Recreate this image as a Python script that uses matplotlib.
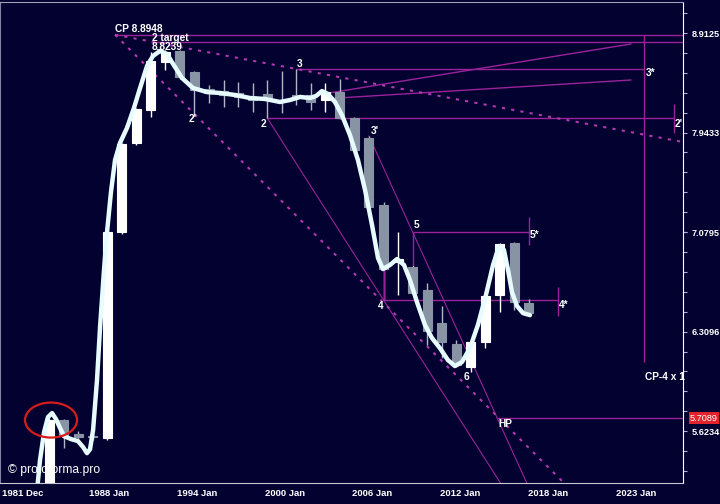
import numpy as np
import matplotlib
matplotlib.use("Agg")
import matplotlib.pyplot as plt
from matplotlib.patches import Ellipse
from matplotlib.ticker import NullFormatter
from matplotlib.transforms import ScaledTranslation

# yearly candles
years = list(range(1984, 2018))
opens = [4.85, 5.696, 5.604, 5.591, 5.578, 7.080, 7.848, 8.153, 8.619, 8.729, 8.519, 8.354,
         8.334, 8.315, 8.277, 8.305, 8.248, 8.296, 8.296, 8.248, 8.325, 8.078, 7.893, 7.305,
         6.838, 6.799, 6.620, 6.372, 6.219, 6.056, 6.234, 6.582, 6.990, 6.522]
highs = [5.7089, 5.705, 5.623, 5.604, 7.088, 7.848, 8.172, 8.719, 8.739, 8.739, 8.529, 8.393,
         8.441, 8.422, 8.412, 8.441, 8.529, 8.549, 8.412, 8.412, 8.451, 8.087, 7.911, 7.330,
         7.080, 6.815, 6.674, 6.499, 6.248, 6.241, 6.582, 6.990, 6.998, 6.552]
lows = [4.79, 5.514, 5.566, 5.566, 5.566, 7.063, 7.830, 8.087, 8.539, 8.451, 8.106, 8.220,
        8.182, 8.182, 8.134, 8.078, 8.125, 8.201, 8.153, 8.134, 8.069, 7.775, 7.280, 6.544,
        6.582, 6.589, 6.212, 6.119, 6.063, 6.021, 6.190, 6.453, 6.469, 6.424]
closes = [5.696, 5.598, 5.585, 5.585, 7.080, 7.839, 8.163, 8.629, 8.719, 8.470, 8.344, 8.315,
          8.296, 8.277, 8.248, 8.248, 8.239, 8.277, 8.229, 8.325, 8.078, 7.784, 7.288, 6.783,
          6.862, 6.597, 6.313, 6.234, 6.070, 6.234, 6.574, 6.982, 6.529, 6.446]

# smoothed line
curve_years = [1983.11, 1983.38, 1983.66, 1983.93, 1984.21, 1984.48, 1984.76, 1985.03, 1985.51,
               1985.99, 1986.34, 1986.61, 1986.82, 1987.03, 1987.30, 1987.51, 1987.78, 1987.99,
               1988.26, 1988.54, 1988.88, 1989.36, 1989.84, 1990.26, 1990.74, 1991.15, 1991.63,
               1992.11, 1992.53, 1993.14, 1993.90, 1994.86, 1995.76, 1996.79, 1997.82, 1998.85,
               1999.88, 2000.57, 2001.26, 2001.94, 2002.36, 2002.77, 2003.18, 2003.66, 2004.14,
               2004.69, 2005.24, 2005.73, 2006.21, 2006.62, 2006.96, 2007.44, 2007.93, 2008.41,
               2008.82, 2009.30, 2009.85, 2010.33, 2010.88, 2011.43, 2011.91, 2012.39, 2012.94,
               2013.49, 2014.04, 2014.53, 2014.94, 2015.28, 2015.56, 2015.83, 2016.18, 2016.59,
               2017.07]
curve_values = [5.192, 5.438, 5.617, 5.716, 5.742, 5.702, 5.643, 5.591, 5.572,
                5.559, 5.521, 5.482, 5.507, 5.630, 5.966, 6.343, 6.775, 7.080,
                7.415, 7.695, 7.848, 7.985, 8.172, 8.363, 8.579, 8.679, 8.729,
                8.699, 8.599, 8.461, 8.363, 8.324, 8.315, 8.296, 8.267, 8.258,
                8.229, 8.248, 8.277, 8.267, 8.286, 8.334, 8.305, 8.229, 8.106,
                7.921, 7.695, 7.432, 7.137, 6.870, 6.783, 6.815, 6.862, 6.815,
                6.697, 6.529, 6.358, 6.263, 6.190, 6.105, 6.063, 6.091, 6.190,
                6.358, 6.582, 6.815, 6.966, 6.934, 6.775, 6.605, 6.499, 6.446,
                6.431]

# wave points
cp_year, cp_value = 1988.54, 8.8948
target_year, target_value = 1991, 8.8239
hp_value = 5.7089
p2 = (1999, 8.078)
p2_left = (1994, 8.106)
p3 = (2001, 8.549)
p3_prime = (2006, 7.911)
p4 = (2007, 6.544)
p5 = (2009, 7.080)
p6 = (2013, 6.021)
cp_dots_upper = (2027.59, 7.857)
cp_dots_lower = (2019.34, 5.302)
rise_years = [2002.8, 2024.0]
rise_upper = [8.305, 8.800]
rise_lower = [8.258, 8.441]
cp_vert_year, cp_vert_bottom = 2024.91, 6.091
star5_year, star4_year, star2_year = 2017, 2019, 2026.97
tick5 = [7.204, 6.974]
tick4 = [6.643, 6.424]
tick2 = [8.210, 7.939]

yticks = [5.6234, 6.3096, 7.0795, 7.9433, 8.9125]
ytick_labels = ["5.6234", "6.3096", "7.0795", "7.9433", "8.9125"]
xtick_pos = [1982.2, 1988.13, 1994.18, 2000.23, 2006.21, 2012.26, 2018.31, 2024.36]
xtick_labels = ["1981 Dec", "1988 Jan", "1994 Jan", "2000 Jan", "2006 Jan", "2012 Jan",
                "2018 Jan", "2023 Jan"]

bg = "#03012f"
purple = "#9a229a"
dots = "#b238b2"
bear = "#8893a3"
bear_wick = "#aeb7c4"
sans = ["Liberation Sans", "DejaVu Sans"]

fig = plt.figure(figsize=(7.2, 5.04), dpi=100, facecolor=bg)
ax = fig.add_axes([0, 21 / 504, 683 / 720, 481 / 504], facecolor=bg)
ax.set_yscale("log")
ax.set_xlim(1980.63, 2027.59)
ax.set_ylim(5.296, 9.238)
x_right = ax.get_xlim()[1]


def extend(a, b, x_end):
    k = (np.log10(b[1]) - np.log10(a[1])) / (b[0] - a[0])
    return 10 ** (np.log10(a[1]) + k * (x_end - a[0]))


# candles
for yr, o, h, l, c in zip(years, opens, highs, lows, closes):
    up = c >= o
    ax.vlines(yr, l, h, color="white" if up else bear_wick, lw=1, zorder=3)
    col = "white" if up else bear
    ax.bar(yr, abs(c - o), bottom=min(o, c), width=0.62, color=col, edgecolor=col,
           lw=0.8, zorder=3.5)

ax.plot(curve_years, curve_values, color="#e6fcff", lw=3.2, solid_capstyle="round",
        solid_joinstyle="round", zorder=4)

# horizontal levels
ax.hlines(cp_value, cp_year, x_right, color=purple, lw=1, zorder=2)
ax.hlines(target_value, target_year, x_right, color=purple, lw=1, zorder=2)
ax.hlines(p3[1], p3[0], cp_vert_year, color=purple, lw=1, zorder=2)
ax.hlines(p2[1], p2[0], star2_year, color=purple, lw=1, zorder=2)
ax.hlines(p5[1], p5[0], star5_year, color=purple, lw=1, zorder=2)
ax.hlines(p4[1], p4[0], star4_year, color=purple, lw=1, zorder=2)
ax.vlines(cp_vert_year, cp_vert_bottom, cp_value, color=purple, lw=1, zorder=2)
ax.vlines(star5_year, *tick5, color=purple, lw=1, zorder=2)
ax.vlines(star4_year, *tick4, color=purple, lw=1, zorder=2)
ax.vlines(star2_year, *tick2, color=purple, lw=1, zorder=2)
ax.vlines(p4[0], p4[1], closes[years.index(2007)], color=purple, lw=1, zorder=3.6)
ax.vlines(p5[0], highs[years.index(2009)], p5[1], color=purple, lw=1, zorder=3.6)
ax.plot(rise_years, rise_upper, color=purple, lw=1, zorder=2)
ax.plot(rise_years, rise_lower, color=purple, lw=1, zorder=2)

# trend lines
x_far = 2035
ax.plot([p2[0], x_far], [p2[1], extend(p2, p4, x_far)], color=purple, lw=0.8, zorder=2)
ax.plot([p3_prime[0], x_far], [p3_prime[1], extend(p3_prime, p5, x_far)], color=purple,
        lw=0.8, zorder=2)
cp = (cp_year, cp_value)
ax.plot([cp_year, x_right], [cp_value, extend(cp, cp_dots_upper, x_right)], color=dots,
        lw=1.5, ls=(0, (1.5, 3)), zorder=2)
ax.plot([cp_year, x_far], [cp_value, extend(cp, cp_dots_lower, x_far)], color=dots,
        lw=1.5, ls=(0, (1.5, 3)), zorder=2)

# HP where the 3'-5 line meets the hp level
k = (np.log10(p5[1]) - np.log10(p3_prime[1])) / (p5[0] - p3_prime[0])
hp_year = p3_prime[0] + (np.log10(hp_value) - np.log10(p3_prime[1])) / k
ax.hlines(hp_value, hp_year, x_right, color=purple, lw=1, zorder=2)

# labels
labels = [
    ("CP 8.8948", cp, (0, 6), "left"),
    ("2 target", (target_year, target_value), (1, 4), "left"),
    ("8.8239", (target_year, target_value), (1, -5), "left"),
    ("3", p3, (3, 5), "center"),
    ("2'", p2_left, (-2, -4), "center"),
    ("2", p2, (-4, -6), "center"),
    ("3'", p3_prime, (6, 5), "center"),
    ("5", p5, (4, 7), "center"),
    ("4", p4, (-3, -6), "center"),
    ("6", p6, (-4, -5), "center"),
    ("HP", (hp_year, hp_value), (8, -6), "center"),
    ("5*", (star5_year, p5[1]), (6, -3), "center"),
    ("4*", (star4_year, p4[1]), (6, -5), "center"),
    ("3*", (cp_vert_year, p3[1]), (7, -4), "center"),
    ("2'", (star2_year, p2[1]), (5, -6), "center"),
    ("CP-4 x 1", (cp_vert_year, cp_vert_bottom), (1, -15), "left"),
]
for txt, xy, off, ha in labels:
    ax.annotate(txt, xy=xy, xytext=off, textcoords="offset pixels", ha=ha, va="center",
                color="white", fontsize=7.3, fontweight="bold", family=sans, zorder=5)

# red circle around the 1984 top
circle = Ellipse((0, 0), 0.52, 0.35, fill=False, ec="#d61c1c", lw=1.6, zorder=6,
                 transform=fig.dpi_scale_trans + ScaledTranslation(1984.14, 5.696, ax.transData))
ax.add_patch(circle)

ax.text(0.011, 0.026, "\u00a9 protoforma.pro", transform=ax.transAxes, color="white",
        fontsize=8.7, family=sans, va="center", zorder=1)

# axes styling
ax.yaxis.tick_right()
ax.set_yticks(yticks, ytick_labels)
ax.set_yticks([10 ** (n / 100) for n in range(73, 97)], minor=True)
ax.yaxis.set_minor_formatter(NullFormatter())
ax.tick_params(axis="y", which="both", direction="out", length=3, width=0.8,
               color="#b0b0c8", pad=3.5, labelcolor="white", labelsize=6.6)
for t in ax.get_yticklabels():
    t.set_fontweight("bold")
    t.set_family(sans)
ax.set_xticks(xtick_pos, xtick_labels)
ax.tick_params(axis="x", length=0, pad=4, labelcolor="white", labelsize=6.8)
for t in ax.get_xticklabels():
    t.set_fontweight("bold")
    t.set_family(sans)

ax.annotate("5.7089", xy=(1, hp_value), xycoords=ax.get_yaxis_transform(), xytext=(7, 0),
            textcoords="offset pixels", ha="left", va="center", color="white", fontsize=6.6,
            family=sans, bbox=dict(boxstyle="square,pad=0.12", fc="#e0242c", ec="none"),
            annotation_clip=False)

ax.spines["right"].set_color("white")
ax.spines["bottom"].set_color("#c8c8d8")
ax.spines["top"].set_color("#a0a0b8")
ax.spines["left"].set_color("#8080a0")

fig.savefig("out.png", dpi=100, facecolor=bg)
